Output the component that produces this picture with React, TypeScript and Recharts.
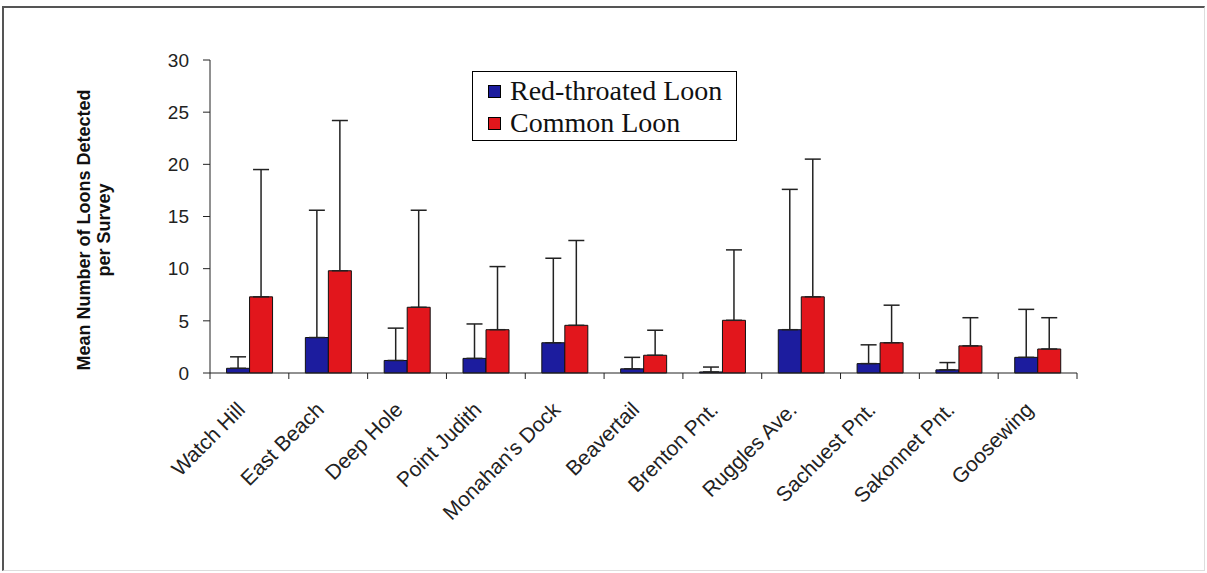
import React from 'react';
import { BarChart, Bar, XAxis, YAxis, ErrorBar, Legend } from 'recharts';

const sites = [
  'Watch Hill',
  'East Beach',
  'Deep Hole',
  'Point Judith',
  "Monahan's Dock",
  'Beavertail',
  'Brenton Pnt.',
  'Ruggles Ave.',
  'Sachuest Pnt.',
  'Sakonnet Pnt.',
  'Goosewing',
];

const seriesNames = ['Red-throated Loon', 'Common Loon'];

const redThroatedMean = [0.45, 3.4, 1.2, 1.4, 2.9, 0.4, 0.1, 4.15, 0.9, 0.3, 1.5];
const redThroatedSD = [1.1, 12.2, 3.1, 3.3, 8.1, 1.1, 0.47, 13.45, 1.8, 0.7, 4.6];
const commonMean = [7.3, 9.8, 6.3, 4.15, 4.57, 1.7, 5.05, 7.3, 2.9, 2.6, 2.3];
const commonSD = [12.2, 14.4, 9.3, 6.05, 8.13, 2.4, 6.75, 13.2, 3.6, 2.7, 3.0];

const yTicks = [0, 5, 10, 15, 20, 25, 30];

const data = sites.map((site, i) => ({
  site,
  rt: redThroatedMean[i],
  rtErr: [0, redThroatedSD[i]],
  cl: commonMean[i],
  clErr: [0, commonSD[i]],
}));

const BLUE = '#1c1c9e';
const RED = '#e2161c';

const XTick = (props: any) => {
  const { x, y, payload, index } = props;
  const half = payload && typeof payload.offset === 'number' && payload.offset > 0 ? payload.offset : 39.4;
  const isLast = index === sites.length - 1;
  const ax = x - 3;
  const ay = y + 38;
  return (
    <g>
      <line x1={x - half} y1={y} x2={x - half} y2={y + 6} stroke="#222" strokeWidth={1} />
      {isLast && <line x1={x + half} y1={y} x2={x + half} y2={y + 6} stroke="#222" strokeWidth={1} />}
      <text
        x={ax}
        y={ay}
        transform={`rotate(-45, ${ax}, ${ay})`}
        textAnchor="end"
        fontSize={21}
        fontFamily='"Liberation Sans", Arial, sans-serif'
        fill="#222"
      >
        {payload.value}
      </text>
    </g>
  );
};

const renderLegend = (props: any) => {
  const payload = [...(props.payload || [])].sort(
    (a: any, b: any) => seriesNames.indexOf(a.value) - seriesNames.indexOf(b.value)
  );
  return (
    <div
      style={{
        border: '1px solid #000',
        background: '#fff',
        width: 265,
        height: 70,
        boxSizing: 'border-box',
        padding: '3px 0 0 15px',
        fontFamily: '"Liberation Serif", "Times New Roman", serif',
        fontSize: 28,
        color: '#111',
        lineHeight: '32px',
      }}
    >
      {payload.map((entry: any) => (
        <div key={entry.value} style={{ display: 'flex', alignItems: 'center', height: 32, whiteSpace: 'nowrap' }}>
          <span
            style={{
              display: 'inline-block',
              width: 11,
              height: 11,
              background: entry.color,
              border: '1px solid #000',
              marginRight: 9,
            }}
          />
          <span>{entry.value}</span>
        </div>
      ))}
    </div>
  );
};

const YLabel = () => (
  <g fontFamily='"Liberation Sans", Arial, sans-serif' fontWeight="bold" fontSize={18} fill="#111">
    <text transform="translate(90, 230) rotate(-90)" textAnchor="middle">
      Mean Number of Loons Detected
    </text>
    <text transform="translate(110, 230) rotate(-90)" textAnchor="middle">
      per Survey
    </text>
  </g>
);

export default function App() {
  return (
    <div style={{ position: 'absolute', left: 0, top: 0, width: 1207, height: 573, background: '#fff' }}>
      <BarChart
        width={1207}
        height={573}
        data={data}
        margin={{ top: 60, right: 130, bottom: 0, left: 0 }}
        barCategoryGap="21%"
        barGap={0}
      >
        <XAxis
          dataKey="site"
          height={200}
          interval={0}
          tickLine={false}
          tickSize={0}
          tickMargin={0}
          axisLine={{ stroke: '#222', strokeWidth: 1 }}
          tick={<XTick />}
        />
        <YAxis
          width={210}
          domain={[0, 30]}
          ticks={yTicks}
          interval={0}
          tickSize={7}
          tickMargin={14}
          axisLine={{ stroke: '#222', strokeWidth: 1 }}
          tickLine={{ stroke: '#222', strokeWidth: 1 }}
          tick={{ fontSize: 19, fill: '#222', fontFamily: '"Liberation Sans", Arial, sans-serif' }}
          label={{ content: () => <YLabel /> }}
        />
        <Legend
          layout="vertical"
          align="center"
          verticalAlign="middle"
          itemSorter={null as any}
          content={renderLegend}
          wrapperStyle={{ left: 472, top: 71, width: 265, height: 70 }}
        />
        <Bar dataKey="rt" name={seriesNames[0]} fill={BLUE} stroke="#111" strokeWidth={1} isAnimationActive={false}>
          <ErrorBar dataKey="rtErr" width={8} stroke="#222" strokeWidth={1.5} direction="y" />
        </Bar>
        <Bar dataKey="cl" name={seriesNames[1]} fill={RED} stroke="#111" strokeWidth={1} isAnimationActive={false}>
          <ErrorBar dataKey="clErr" width={8} stroke="#222" strokeWidth={1.5} direction="y" />
        </Bar>
      </BarChart>
      <div
        style={{
          position: 'absolute',
          left: 2,
          top: 6,
          width: 1203,
          height: 565,
          boxSizing: 'border-box',
          borderLeft: '2px solid #555',
          borderTop: '2px solid #555',
          borderRight: '1px solid #ddd',
          borderBottom: '1px solid #ddd',
          pointerEvents: 'none',
        }}
      />
    </div>
  );
}
